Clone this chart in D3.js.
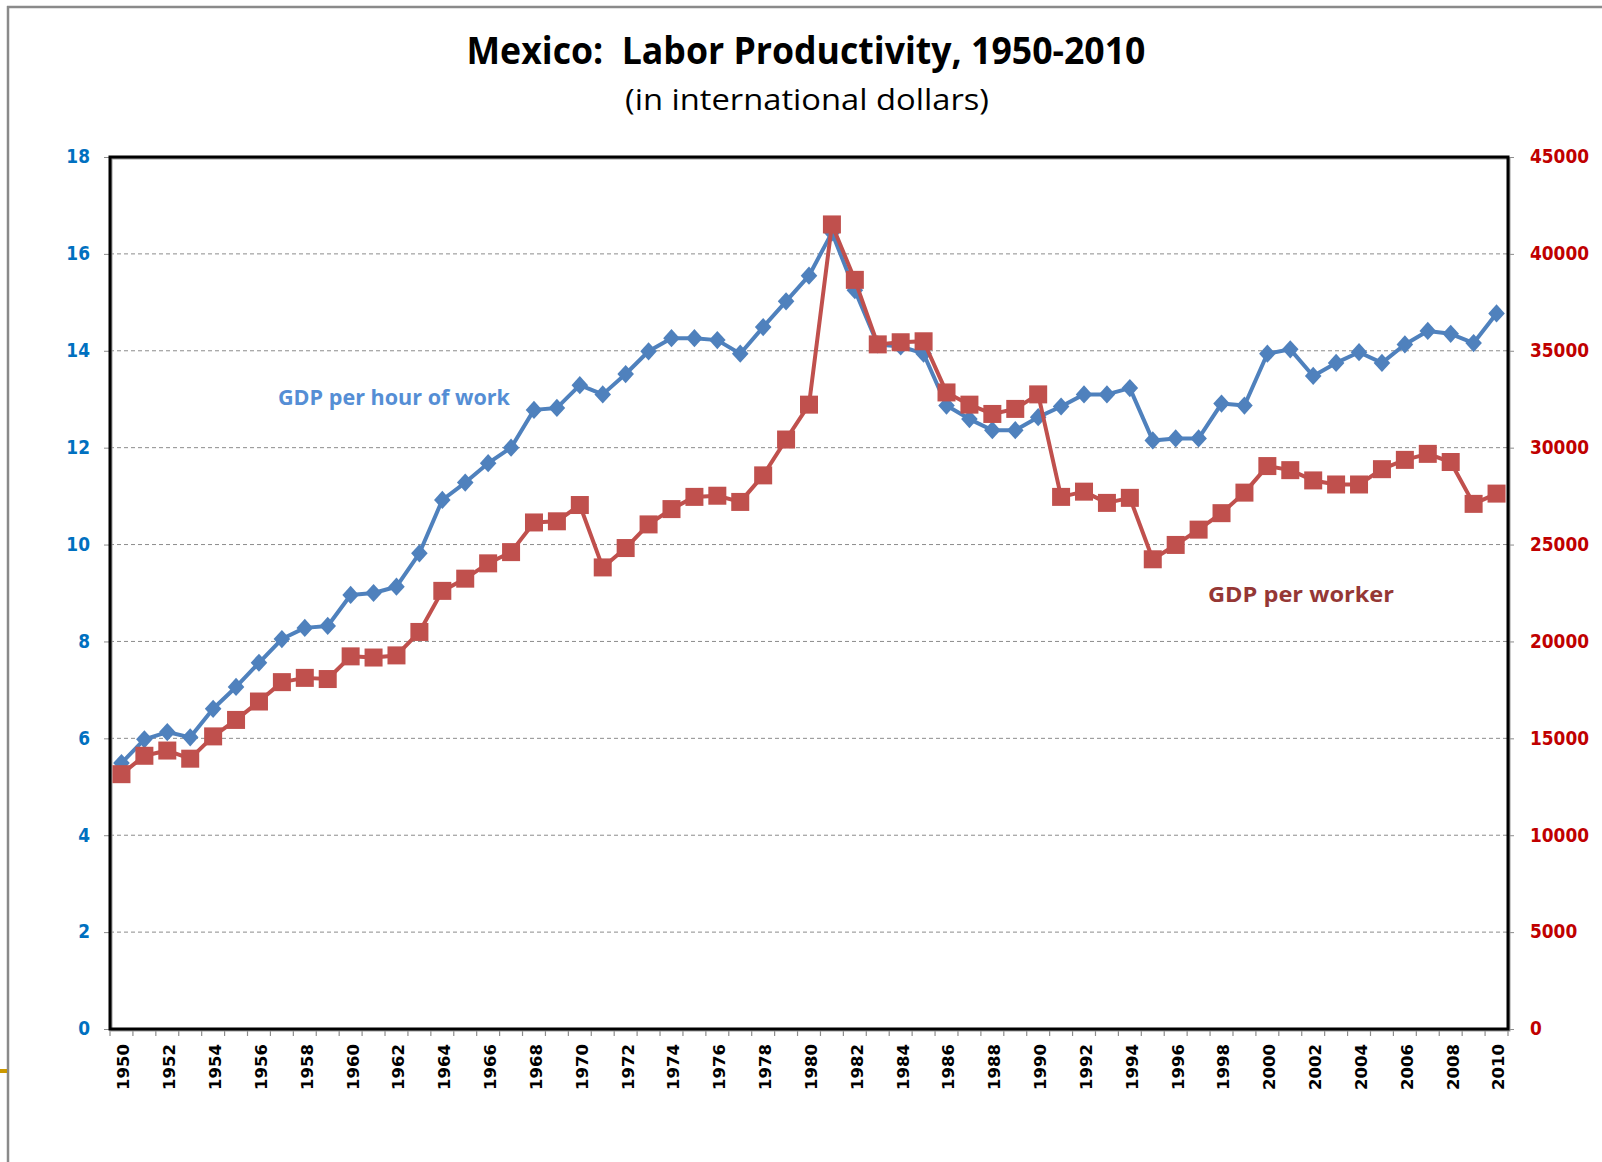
<!DOCTYPE html>
<html>
<head>
<meta charset="utf-8">
<script src="https://cdn.jsdelivr.net/npm/d3@7"></script>
<style>
  html, body { margin: 0; padding: 0; background: #fff; }
  svg { display: block; }
</style>
</head>
<body>
<svg id="chart" width="1602" height="1162"></svg>
<script>
// ---------- data ----------
const years = d3.range(1950, 2011);
const gdpPerHour = [
  5.49, 5.98, 6.13, 6.02, 6.61, 7.06, 7.56, 8.05, 8.28, 8.32,
  8.96, 9.00, 9.13, 9.82, 10.92, 11.28, 11.68, 12.00, 12.78, 12.82,
  13.29, 13.10, 13.52, 13.99, 14.26, 14.26, 14.22, 13.94, 14.49, 15.02,
  15.55, 16.44, 15.25, 14.13, 14.09, 13.94, 12.87, 12.59, 12.36, 12.36,
  12.63, 12.85, 13.10, 13.10, 13.23, 12.15, 12.19, 12.19, 12.91, 12.87,
  13.94, 14.03, 13.48, 13.75, 13.97, 13.75, 14.13, 14.41, 14.35, 14.16,
  14.77
];
const gdpPerWorker = [
  13150, 14100, 14370, 13950, 15100, 15950, 16900, 17900, 18120, 18060,
  19230, 19170, 19280, 20490, 22610, 23240, 24030, 24610, 26140, 26200,
  27040, 23820, 24820, 26040, 26830, 27460, 27520, 27200, 28570, 30420,
  32220, 41520, 38660, 35330, 35440, 35490, 32850, 32220, 31740, 32000,
  32750, 27460, 27730, 27150, 27410, 24240, 24980, 25770, 26620, 27680,
  29050, 28840, 28310, 28100, 28100, 28890, 29370, 29680, 29260, 27100,
  27630
];
const leftTicks = [0, 2, 4, 6, 8, 10, 12, 14, 16, 18];
const rightTicks = [0, 5000, 10000, 15000, 20000, 25000, 30000, 35000, 40000, 45000];
const yearLabels = d3.range(1950, 2011, 2);
const titleText = "Mexico:  Labor Productivity, 1950-2010";
const subtitleText = "(in international dollars)";
const hourLabel = "GDP per hour of work";
const workerLabel = "GDP per worker";

// ---------- layout ----------
const L = 110, R = 1508, T = 157, B = 1029;
const svg = d3.select("#chart");

const x = d3.scaleBand().domain(years).range([L, R]).padding(0);
const yL = d3.scaleLinear().domain([0, 18]).range([B, T]);
const yR = d3.scaleLinear().domain([0, 45000]).range([B, T]);
const cx = d => x(d) + x.bandwidth() / 2;

// slide borders
svg.append("line").attr("x1", 8).attr("x2", 8).attr("y1", 6).attr("y2", 1162)
  .attr("stroke", "#8a8a8a").attr("stroke-width", 2.5);
svg.append("line").attr("x1", 7).attr("x2", 1602).attr("y1", 7).attr("y2", 7)
  .attr("stroke", "#8a8a8a").attr("stroke-width", 2.5);
svg.append("line").attr("x1", 0).attr("x2", 7).attr("y1", 1071).attr("y2", 1071)
  .attr("stroke", "#CC9900").attr("stroke-width", 4);

// titles
svg.append("text").attr("x", 806).attr("y", 64).attr("text-anchor", "middle")
  .attr("font-family", "'Open Sans', sans-serif").attr("font-weight", 700)
  .attr("font-size", 37).attr("fill", "#000")
  .attr("textLength", 679).attr("lengthAdjust", "spacingAndGlyphs")
  .style("white-space", "pre").text(titleText);
svg.append("text").attr("x", 807).attr("y", 110).attr("text-anchor", "middle")
  .attr("font-family", "'Open Sans', sans-serif").attr("font-weight", 400)
  .attr("font-size", 29).attr("fill", "#000")
  .attr("textLength", 364).attr("lengthAdjust", "spacingAndGlyphs")
  .text(subtitleText);

// gridlines
svg.append("g").selectAll("line").data(leftTicks.filter(v => v > 0 && v < 18)).join("line")
  .attr("x1", L).attr("x2", R).attr("y1", d => yL(d)).attr("y2", d => yL(d))
  .attr("stroke", "#8c8c8c").attr("stroke-width", 1).attr("stroke-dasharray", "4,3");

// left axis
const gL = svg.append("g").attr("transform", `translate(${L},0)`)
  .call(d3.axisLeft(yL).tickValues(leftTicks).tickSize(6).tickPadding(14).tickFormat(d3.format("d")));
gL.select(".domain").remove();
gL.selectAll(".tick line").attr("stroke", "#8c8c8c");
gL.selectAll(".tick text").attr("fill", "#0070C0").attr("font-family", "'DejaVu Sans', sans-serif")
  .attr("font-weight", 700).attr("font-size", 17).attr("transform", "scale(1,1.15)")
  .attr("dy", "0.3em");

// right axis
const gR = svg.append("g").attr("transform", `translate(${R},0)`)
  .call(d3.axisRight(yR).tickValues(rightTicks).tickSize(6).tickPadding(16).tickFormat(d3.format("d")));
gR.select(".domain").remove();
gR.selectAll(".tick line").attr("stroke", "#8c8c8c");
gR.selectAll(".tick text").attr("fill", "#C00000").attr("font-family", "'DejaVu Sans', sans-serif")
  .attr("font-weight", 700).attr("font-size", 17).attr("transform", "scale(1,1.15)")
  .attr("dy", "0.3em");

// x axis: boundary ticks
svg.append("g").selectAll("line").data(d3.range(years.length + 1)).join("line")
  .attr("x1", i => L + i * x.bandwidth()).attr("x2", i => L + i * x.bandwidth())
  .attr("y1", B).attr("y2", B + 7).attr("stroke", "#8c8c8c").attr("stroke-width", 1.2);
const gX = svg.append("g").attr("transform", `translate(0,${B})`)
  .call(d3.axisBottom(x).tickValues(yearLabels).tickSize(0).tickPadding(0));
gX.select(".domain").remove();
gX.selectAll(".tick text")
  .attr("font-family", "'DejaVu Sans', sans-serif").attr("font-weight", 700)
  .attr("font-size", 16.5).attr("fill", "#000")
  .attr("text-anchor", "end").attr("transform", "translate(2,15) rotate(-90)")
  .attr("x", 0).attr("y", 0).attr("dy", "0.36em");

// plot frame
svg.append("rect").attr("x", L + 1.5).attr("y", T + 1.5).attr("width", R - L).attr("height", B - T)
  .attr("fill", "none").attr("stroke", "#9a9a9a").attr("stroke-width", 2);
svg.append("rect").attr("x", L).attr("y", T).attr("width", R - L).attr("height", B - T)
  .attr("fill", "none").attr("stroke", "#000").attr("stroke-width", 3);

// series lines
const blue = "#4F81BD", red = "#C0504D";
const lineH = d3.line().x((d, i) => cx(years[i])).y(d => yL(d));
const lineW = d3.line().x((d, i) => cx(years[i])).y(d => yR(d));

svg.append("path").datum(gdpPerHour).attr("d", lineH)
  .attr("fill", "none").attr("stroke", blue).attr("stroke-width", 4).attr("stroke-linejoin", "round");
svg.append("g").selectAll("path").data(gdpPerHour).join("path")
  .attr("d", d3.symbol().type(d3.symbolDiamond2).size(175))
  .attr("transform", (d, i) => `translate(${cx(years[i])},${yL(d)}) scale(1,1.1)`)
  .attr("fill", blue);

svg.append("path").datum(gdpPerWorker).attr("d", lineW)
  .attr("fill", "none").attr("stroke", red).attr("stroke-width", 4).attr("stroke-linejoin", "round");
svg.append("g").selectAll("rect").data(gdpPerWorker).join("rect")
  .attr("x", (d, i) => cx(years[i]) - 9).attr("y", d => yR(d) - 9)
  .attr("width", 18).attr("height", 18).attr("fill", red);

// series labels
svg.append("text").attr("x", 278).attr("y", 405)
  .attr("font-family", "'Open Sans', sans-serif").attr("font-weight", 700)
  .attr("font-size", 22).attr("fill", "#558ED5")
  .attr("textLength", 232).attr("lengthAdjust", "spacingAndGlyphs").text(hourLabel);
svg.append("text").attr("x", 1208).attr("y", 602)
  .attr("font-family", "'Open Sans', sans-serif").attr("font-weight", 700)
  .attr("font-size", 22).attr("fill", "#953735")
  .attr("textLength", 186).attr("lengthAdjust", "spacingAndGlyphs").text(workerLabel);
</script>
</body>
</html>
